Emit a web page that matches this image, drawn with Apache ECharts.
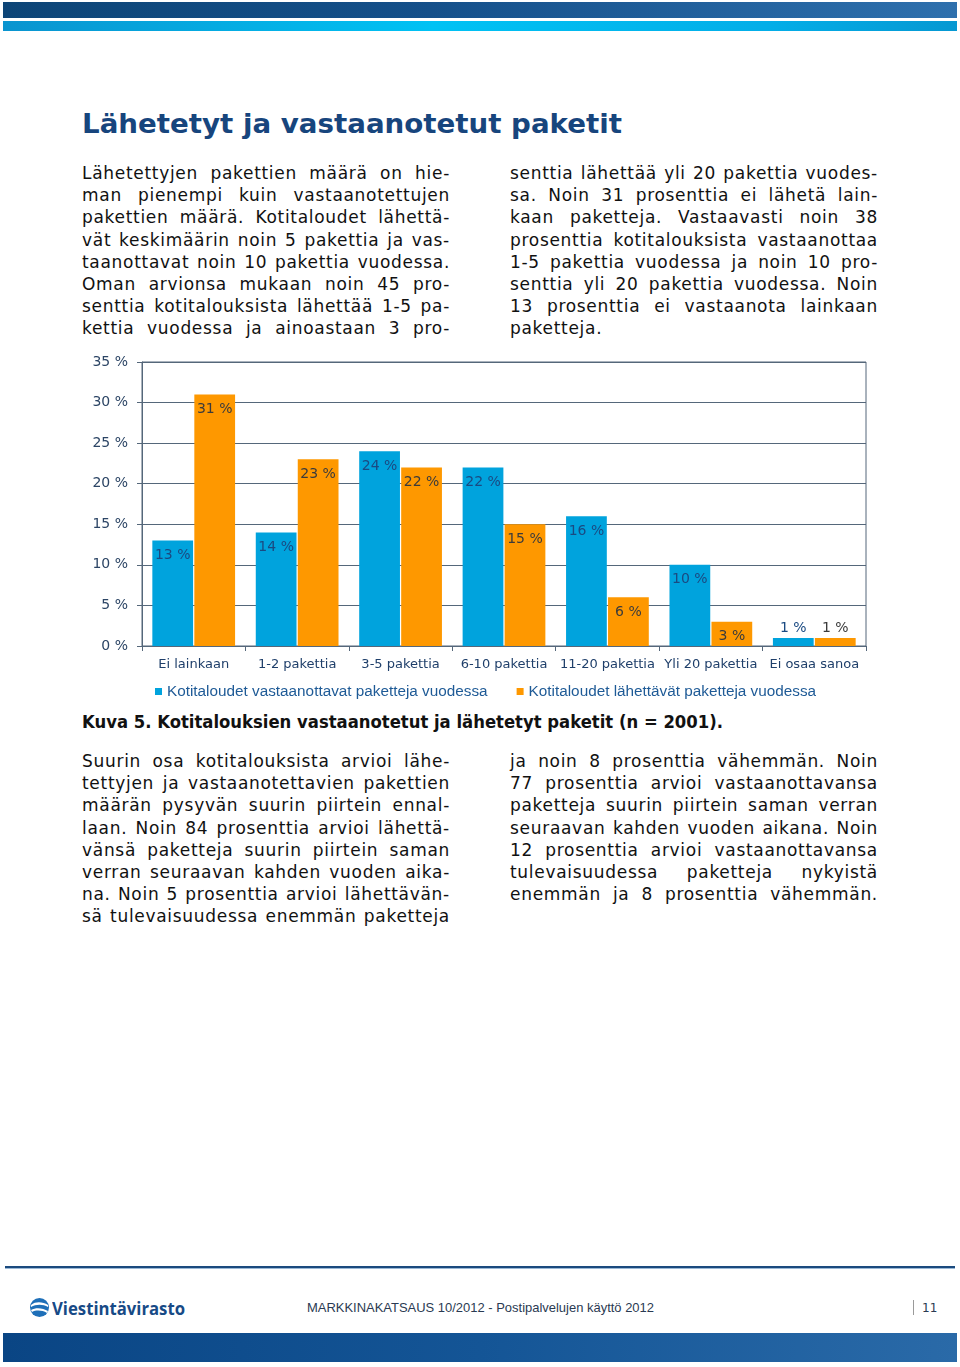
<!DOCTYPE html>
<html><head><meta charset="utf-8">
<script src="https://cdn.jsdelivr.net/npm/echarts@6/dist/echarts.min.js"></script>
<style>
body{margin:0;width:960px;height:1367px;position:relative;background:#fff;overflow:hidden;font-family:"DejaVu Sans",Verdana,sans-serif;}
.abs{position:absolute;}
#bar1{left:3px;top:2px;width:954px;height:16px;background:linear-gradient(to right,#0d4577,#15508a 45%,#2e70ad);}
#bar2{left:3px;top:21px;width:954px;height:10px;background:linear-gradient(to right,#0a94cf,#00c2f4 45%,#03aee8 80%,#0698d2);}
.fit{white-space:nowrap;transform-origin:left top;}
#title{left:82px;top:108px;font-weight:bold;font-size:27px;color:#17457d;}
.col{width:368px;font-size:17px;line-height:22.2px;color:#111;letter-spacing:0.7px;}
.line{display:flex;justify-content:space-between;white-space:nowrap;height:22.2px;}
.line.last{display:block;}
#chart{left:0;top:340px;width:960px;height:370px;}
#caption{left:82px;top:712px;font-weight:bold;font-size:17px;color:#111;}
#fline{left:5px;top:1266px;width:950px;height:2px;background:#1b4a7e;}
#fline2{left:5px;top:1268px;width:950px;height:1px;background:#9ab8d6;}
#fbar{left:3px;top:1333px;width:954px;height:29px;background:linear-gradient(to right,#0a4584,#145596 50%,#2a6aa8);}
#logo{left:52px;top:1296px;font-weight:bold;font-size:18px;color:#174a86;font-family:"Open Sans",sans-serif;}
#ftext{left:307px;top:1300px;font-size:13px;color:#2a3a52;font-family:"Liberation Sans",sans-serif;}
#pbar{left:913px;top:1300px;width:1px;height:15px;background:#9a9a9a;}
#pnum{left:922px;top:1301px;font-size:12px;color:#2a3a52;}
</style></head>
<body>
<div id="bar1" class="abs"></div>
<div id="bar2" class="abs"></div>
<div id="title" class="abs fit">Lähetetyt ja vastaanotetut paketit</div>
<div id="c1" class="abs col" style="left:82px;top:162px"></div>
<div id="c2" class="abs col" style="left:510px;top:162px"></div>
<div id="chart" class="abs"></div>
<div id="caption" class="abs fit">Kuva 5. Kotitalouksien vastaanotetut ja lähetetyt paketit (n = 2001).</div>
<div id="c3" class="abs col" style="left:82px;top:750px"></div>
<div id="c4" class="abs col" style="left:510px;top:750px"></div>
<div id="fline" class="abs"></div>
<div id="fline2" class="abs"></div>
<svg class="abs" style="left:29px;top:1297px" width="21" height="21" viewBox="0 0 21 21">
<circle cx="10.5" cy="10.5" r="9.5" fill="#1e6fb8"/>
<path d="M2 8 C7 4,14 5,19 8 L19 10 C14 7,7 7,2 10Z" fill="#fff"/>
<path d="M2 13 C7 10,14 11,19 14 L18 16 C13 13,7 13,3 15Z" fill="#fff"/>
</svg>
<div id="logo" class="abs fit">Viestintävirasto</div>
<div id="ftext" class="abs fit">MARKKINAKATSAUS 10/2012 - Postipalvelujen käyttö 2012</div>
<div id="pbar" class="abs"></div>
<div id="pnum" class="abs">11</div>
<div id="fbar" class="abs"></div>
<script>
// ---- chart data ----
const categories = ['Ei lainkaan','1-2 pakettia','3-5 pakettia','6-10 pakettia','11-20 pakettia','Yli 20 pakettia','Ei osaa sanoa'];
const received = [13,14,24,22,16,10,1];
const sent = [31,23,22,15,6,3,1];
const seriesNames = ['Kotitaloudet vastaanottavat paketteja vuodessa','Kotitaloudet lähettävät paketteja vuodessa'];
const yMin = 0, yMax = 35, yStep = 5;

// ---- body text lines ----
const col1 = ['Lähetettyjen pakettien määrä on hie-','man pienempi kuin vastaanotettujen','pakettien määrä. Kotitaloudet lähettä-','vät keskimäärin noin 5 pakettia ja vas-','taanottavat noin 10 pakettia vuodessa.','Oman arvionsa mukaan noin 45 pro-','senttia kotitalouksista lähettää 1-5 pa-','kettia vuodessa ja ainoastaan 3 pro-'];
const col2 = ['senttia lähettää yli 20 pakettia vuodes-','sa. Noin 31 prosenttia ei lähetä lain-','kaan paketteja. Vastaavasti noin 38','prosenttia kotitalouksista vastaanottaa','1-5 pakettia vuodessa ja noin 10 pro-','senttia yli 20 pakettia vuodessa. Noin','13 prosenttia ei vastaanota lainkaan','paketteja.'];
const col3 = ['Suurin osa kotitalouksista arvioi lähe-','tettyjen ja vastaanotettavien pakettien','määrän pysyvän suurin piirtein ennal-','laan. Noin 84 prosenttia arvioi lähettä-','vänsä paketteja suurin piirtein saman','verran seuraavan kahden vuoden aika-','na. Noin 5 prosenttia arvioi lähettävän-','sä tulevaisuudessa enemmän paketteja'];
const col4 = ['ja noin 8 prosenttia vähemmän. Noin','77 prosenttia arvioi vastaanottavansa','paketteja suurin piirtein saman verran','seuraavan kahden vuoden aikana. Noin','12 prosenttia arvioi vastaanottavansa','tulevaisuudessa paketteja nykyistä','enemmän ja 8 prosenttia vähemmän.'];

function fillCol(id, lines, lastShort){
  const el = document.getElementById(id);
  lines.forEach((t,i)=>{
    const d = document.createElement('div');
    d.className = 'line';
    if (lastShort && i===lines.length-1){ d.className='line last'; d.textContent=t; }
    else t.split(' ').forEach(w=>{const s=document.createElement('span'); s.textContent=w; d.appendChild(s);});
    el.appendChild(d);
  });
}
fillCol('c1',col1,false); fillCol('c2',col2,true); fillCol('c3',col3,false); fillCol('c4',col4,false);

function fit(id,w){const el=document.getElementById(id); const r=el.getBoundingClientRect().width; el.style.transform='scaleX('+(w/r)+')';}
fit('title',540); fit('caption',641); fit('logo',133); fit('ftext',347);

const axisColor = '#55677a';
function items(arr){ return arr.map(v=> v<2 ? {value:v,label:{position:'top',distance:3}} : {value:v,label:{position:'insideTop'}}); }
const chart = echarts.init(document.getElementById('chart'), null, {renderer:'canvas'});
chart.setOption({
  animation:false,
  textStyle:{fontFamily:'DejaVu Sans'},
  grid:{left:142, top:22, width:724, height:284, show:true, borderColor:axisColor, borderWidth:1, backgroundColor:'transparent'},
  legend:{left:155, top:344, padding:0, itemWidth:7, itemHeight:7, itemGap:29, icon:'rect',
    textStyle:{fontFamily:'Liberation Sans', fontSize:15.3, color:'#1e5a96', padding:[0,0,0,0]}},
  xAxis:{type:'category', data:categories,
    axisLine:{lineStyle:{color:axisColor,width:1}},
    axisTick:{show:true,length:5,lineStyle:{color:axisColor}},
    axisLabel:{color:'#1f3f6a', fontSize:13, margin:12, interval:0}},
  yAxis:{type:'value', min:yMin, max:yMax, interval:yStep,
    axisLine:{show:true, lineStyle:{color:axisColor,width:1}},
    axisTick:{show:true,length:5,lineStyle:{color:axisColor}},
    splitLine:{lineStyle:{color:axisColor,width:1}},
    axisLabel:{formatter:'{value} %', color:'#2c4565', fontSize:14, margin:14}},
  series:[
    {name:seriesNames[0], type:'bar', data:items(received), barGap:'3%', barCategoryGap:'20%',
      itemStyle:{color:'#00a3dd'},
      label:{show:true, formatter:'{c} %', fontSize:14, color:'#1a4a82', distance:8}},
    {name:seriesNames[1], type:'bar', data:items(sent),
      itemStyle:{color:'#fe9800'},
      label:{show:true, formatter:'{c} %', fontSize:14, color:'#3b3b3b', distance:8}}
  ]
});
</script>
</body></html>
